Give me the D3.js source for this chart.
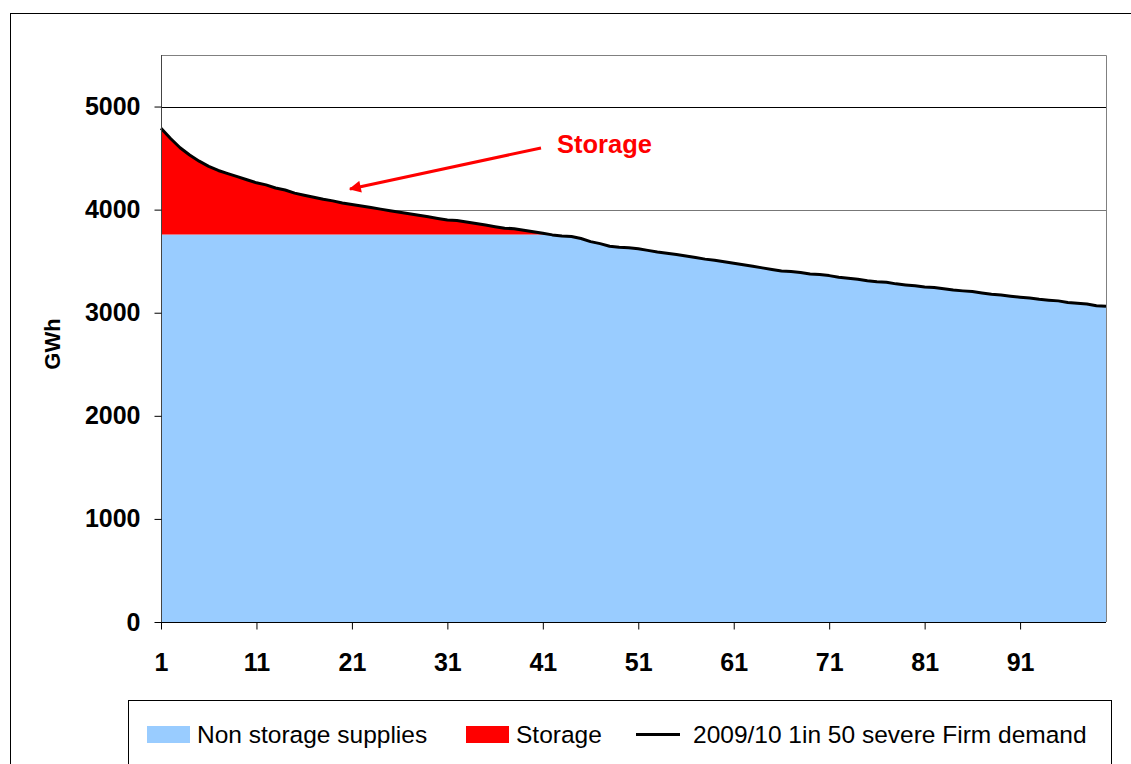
<!DOCTYPE html>
<html>
<head>
<meta charset="utf-8">
<script src="https://cdn.jsdelivr.net/npm/d3@7/dist/d3.min.js"></script>
<style>
  body { margin: 0; background: #fff; }
  svg { display: block; font-family: Arial, "Liberation Sans", sans-serif; }
</style>
</head>
<body>
<div class="chart"></div>
<script>
// days 1..100
var days = d3.range(1, 101);

// 2009/10 1 in 50 severe firm demand (GWh)
var demand = [
  4790, 4690, 4600, 4530, 4470, 4420, 4380, 4350, 4320, 4290,
  4260, 4240, 4210, 4190, 4160, 4140, 4120, 4100, 4085, 4065,
  4050, 4035, 4020, 4005, 3990, 3975, 3960, 3945, 3930, 3915,
  3900, 3895, 3880, 3865, 3850, 3835, 3820, 3815, 3800, 3785,
  3770, 3755, 3745, 3740, 3720, 3690, 3670, 3645, 3635, 3630,
  3620, 3605, 3590, 3578, 3565, 3550, 3535, 3520, 3510, 3495,
  3480, 3465, 3450, 3435, 3420, 3405, 3400, 3390, 3375, 3370,
  3360, 3345, 3335, 3325, 3310, 3300, 3295, 3280, 3270, 3262,
  3250, 3245, 3232, 3220, 3212, 3205, 3192, 3180, 3172, 3160,
  3150, 3142, 3130, 3122, 3115, 3100, 3092, 3085, 3068, 3062
];

// non storage supplies (GWh)
var nonStorage = [
  3760, 3760, 3760, 3760, 3760, 3760, 3760, 3760, 3760, 3760,
  3760, 3760, 3760, 3760, 3760, 3760, 3760, 3760, 3760, 3760,
  3760, 3760, 3760, 3760, 3760, 3760, 3760, 3760, 3760, 3760,
  3760, 3760, 3760, 3760, 3760, 3760, 3760, 3760, 3760, 3760,
  3760, 3755, 3745, 3740, 3720, 3690, 3670, 3645, 3635, 3630,
  3620, 3605, 3590, 3578, 3565, 3550, 3535, 3520, 3510, 3495,
  3480, 3465, 3450, 3435, 3420, 3405, 3400, 3390, 3375, 3370,
  3360, 3345, 3335, 3325, 3310, 3300, 3295, 3280, 3270, 3262,
  3250, 3245, 3232, 3220, 3212, 3205, 3192, 3180, 3172, 3160,
  3150, 3142, 3130, 3122, 3115, 3100, 3092, 3085, 3068, 3062
];

// storage (GWh)
var storage = [
  1030, 930, 840, 770, 710, 660, 620, 590, 560, 530,
  500, 480, 450, 430, 400, 380, 360, 340, 325, 305,
  290, 275, 260, 245, 230, 215, 200, 185, 170, 155,
  140, 135, 120, 105, 90, 75, 60, 55, 40, 25,
  10, 0, 0, 0, 0, 0, 0, 0, 0, 0,
  0, 0, 0, 0, 0, 0, 0, 0, 0, 0,
  0, 0, 0, 0, 0, 0, 0, 0, 0, 0,
  0, 0, 0, 0, 0, 0, 0, 0, 0, 0,
  0, 0, 0, 0, 0, 0, 0, 0, 0, 0,
  0, 0, 0, 0, 0, 0, 0, 0, 0, 0
];

var yTicks = [0, 1000, 2000, 3000, 4000, 5000];
var xTicks = [1, 11, 21, 31, 41, 51, 61, 71, 81, 91];
var seriesNames = ["Non storage supplies", "Storage", "2009/10 1in 50 severe Firm demand"];

var options = {
    width: 1131,
    height: 764,
    left: 161,
    right: 1106,
    top: 55,
    bottom: 622
};

var colors = { non: "#99ccff", storage: "#ff0000", line: "#000000" };

var rows = days.map(function (d, i) {
    return { day: d, non: nonStorage[i], storage: storage[i], demand: demand[i] };
});

var svg = d3.select(".chart").append("svg")
    .attr("width", options.width)
    .attr("height", options.height);

// outer chart border
svg.append("rect")
    .attr("x", 10.5).attr("y", 13.5)
    .attr("width", 1140).attr("height", 800)
    .attr("fill", "none").attr("stroke", "#000").attr("stroke-width", 1);

var xScale = d3.scaleLinear().domain([1, 100]).range([options.left, options.right]);
var yScale = d3.scaleLinear().domain([0, 5500]).range([options.bottom, options.top]);

// gridlines
svg.append("g")
    .selectAll("line")
    .data(yTicks.filter(function (t) { return t > 0; }))
    .enter().append("line")
    .attr("x1", options.left).attr("x2", options.right)
    .attr("y1", function (d) { return Math.round(yScale(d)) + 0.5; })
    .attr("y2", function (d) { return Math.round(yScale(d)) + 0.5; })
    .attr("stroke", function (d) { return d === 5000 ? "#000" : "#777"; })
    .attr("stroke-width", 1);

// stacked areas
var stack = d3.stack().keys(["non", "storage"]);
var layers = stack(rows);

var area = d3.area()
    .x(function (d) { return xScale(d.data.day); })
    .y0(function (d) { return yScale(d[0]); })
    .y1(function (d) { return yScale(d[1]); });

svg.append("g")
    .selectAll("path")
    .data(layers)
    .enter().append("path")
    .attr("d", area)
    .attr("fill", function (d) { return d.key === "non" ? colors.non : colors.storage; });

// demand line
var line = d3.line()
    .x(function (d) { return xScale(d.day); })
    .y(function (d) { return yScale(d.demand); });

svg.append("path")
    .datum(rows)
    .attr("d", line)
    .attr("fill", "none")
    .attr("stroke", colors.line)
    .attr("stroke-width", 3)
    .attr("stroke-linejoin", "round");

// plot frame (top/right)
svg.append("path")
    .attr("d", "M" + (options.left + 0.5) + "," + (options.top + 0.5) +
               "H" + (options.right + 0.5) + "V" + options.bottom)
    .attr("fill", "none").attr("stroke", "#808080").attr("stroke-width", 1);

// axes
var yAxis = d3.axisLeft(yScale).tickValues(yTicks).tickSize(7).tickPadding(14).tickFormat(d3.format("d"));
var xAxis = d3.axisBottom(xScale).tickValues(xTicks).tickSize(7).tickPadding(24).tickFormat(d3.format("d"));

var gy = svg.append("g")
    .attr("transform", "translate(" + (options.left + 0.5) + ",0)")
    .call(yAxis);
gy.select(".domain").attr("d", "M0," + options.top + "V" + (options.bottom + 0.5)).attr("stroke", "#444");

var gx = svg.append("g")
    .attr("transform", "translate(0," + (options.bottom + 0.5) + ")")
    .call(xAxis);
gx.select(".domain").attr("d", "M" + options.left + ",0H" + options.right).attr("stroke", "#000");

svg.selectAll(".tick line").attr("stroke", "#000");
svg.selectAll(".tick text")
    .attr("font-family", "Arial, 'Liberation Sans', sans-serif")
    .attr("font-size", "25px")
    .attr("font-weight", "bold")
    .attr("fill", "#000");

// y title
svg.append("text")
    .attr("transform", "translate(60,344) rotate(-90)")
    .attr("text-anchor", "middle")
    .attr("font-size", "22px")
    .attr("font-weight", "bold")
    .text("GWh");

// annotation
svg.append("defs").append("marker")
    .attr("id", "arrow")
    .attr("viewBox", "0 0 10 10")
    .attr("refX", 9).attr("refY", 5)
    .attr("markerWidth", 5).attr("markerHeight", 4)
    .attr("orient", "auto")
    .append("path")
    .attr("d", "M0,0L10,5L0,10z")
    .attr("fill", colors.storage);

svg.append("line")
    .attr("x1", 541).attr("y1", 148)
    .attr("x2", 350).attr("y2", 189)
    .attr("stroke", colors.storage)
    .attr("stroke-width", 3)
    .attr("marker-end", "url(#arrow)");

svg.append("text")
    .attr("x", 557).attr("y", 153)
    .attr("font-size", "25.5px")
    .attr("font-weight", "bold")
    .attr("fill", colors.storage)
    .text("Storage");

// legend
var legend = svg.append("g");
legend.append("rect")
    .attr("x", 128.5).attr("y", 700.5)
    .attr("width", 983).attr("height", 100)
    .attr("fill", "#fff").attr("stroke", "#000").attr("stroke-width", 1);

var legendItems = [
    { name: seriesNames[0], type: "area", color: colors.non, x: 147 },
    { name: seriesNames[1], type: "area", color: colors.storage, x: 466 },
    { name: seriesNames[2], type: "line", color: colors.line, x: 636 }
];

legendItems.forEach(function (it) {
    if (it.type === "area") {
        legend.append("rect")
            .attr("x", it.x).attr("y", 726)
            .attr("width", 43).attr("height", 17)
            .attr("fill", it.color);
    } else {
        legend.append("line")
            .attr("x1", it.x).attr("x2", it.x + 44)
            .attr("y1", 734.5).attr("y2", 734.5)
            .attr("stroke", it.color).attr("stroke-width", 3);
    }
    legend.append("text")
        .attr("x", it.type === "area" ? it.x + 50 : it.x + 57)
        .attr("y", 743)
        .attr("font-size", "24.5px")
        .attr("fill", "#000")
        .text(it.name);
});
</script>
</body>
</html>
